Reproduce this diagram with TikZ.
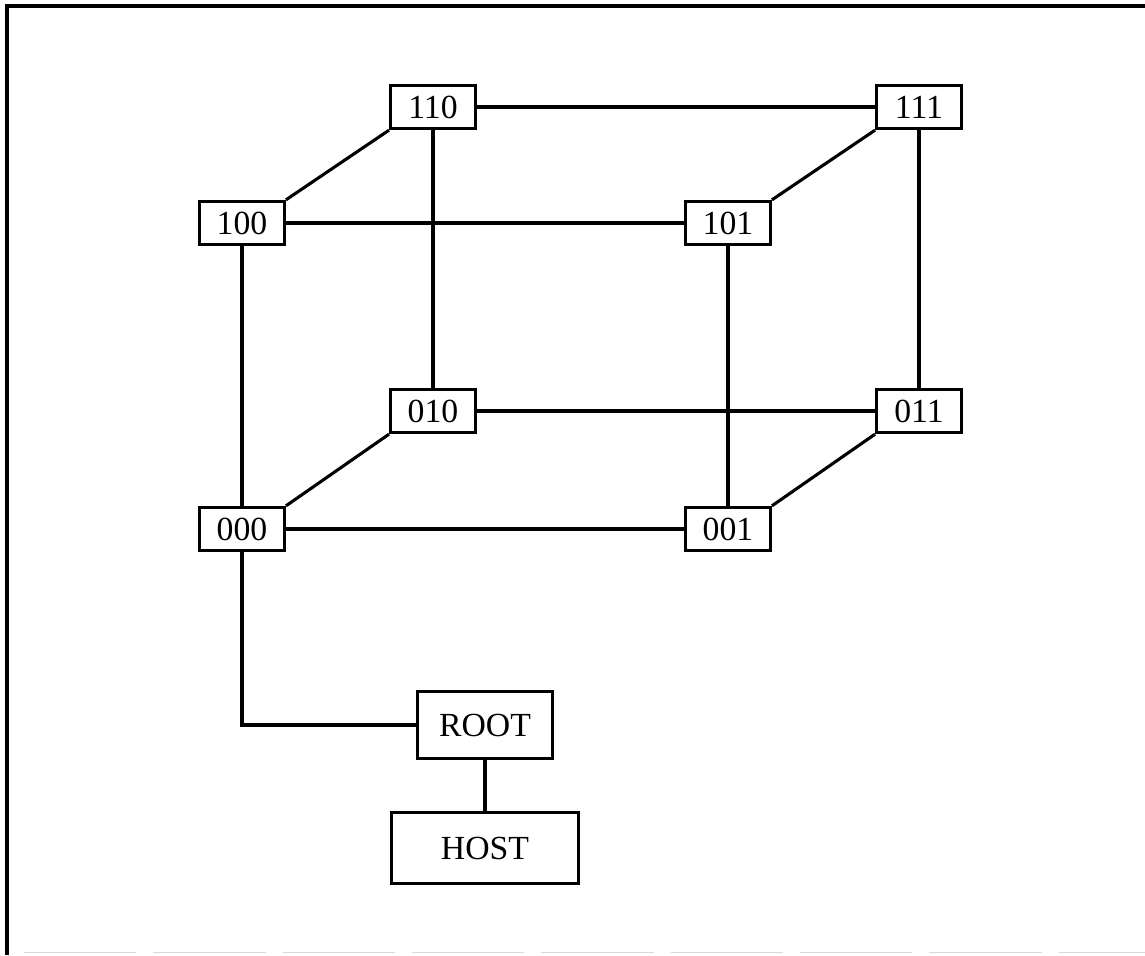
\documentclass[tikz,border=0pt]{standalone}
\usepackage{fontspec}
\setmainfont{Liberation Serif}
\usepackage{tikz}
\usetikzlibrary{positioning}

\begin{document}
\begin{tikzpicture}[line width=1.1pt, every edge/.style={draw, line width=1.1pt},
  cube/.style={draw, rectangle, minimum width=1.06cm, minimum height=0.54cm, inner sep=0pt, font=\fontsize{12}{14}\selectfont},
  ctrl/.style={draw, rectangle, inner sep=0pt, font=\fontsize{12}{14}\selectfont}]
\path[use as bounding box] (0,0) rectangle (14.3125,11.9375);
% frame
\draw[line width=1.4pt] (0.0875,0) -- (0.0875,11.8625) -- (14.3125,11.8625);
\draw[line width=0.6pt, black!15, dash pattern=on 40pt off 6pt] (0.3,0.03) -- (14.3125,0.03);
\node[cube] (N110) at (5.4125,10.6) {110};
\node[cube] (N111) at (11.4875,10.6) {111};
\node[cube] (N100) at (3.025,9.15) {100};
\node[cube] (N101) at (9.1,9.15) {101};
\node[cube] (N010) at (5.4125,6.8) {010};
\node[cube] (N011) at (11.4875,6.8) {011};
\node[cube] (N000) at (3.025,5.325) {000};
\node[cube] (N001) at (9.1,5.325) {001};
\node[ctrl, minimum width=1.69cm, minimum height=0.84cm] (root) at (6.0625,2.875) {ROOT};
\node[ctrl, minimum width=2.34cm, minimum height=0.88cm] (host) at (6.0625,1.3375) {HOST};
\path (N110) edge (N111);
\path (N100) edge (N101);
\path (N010) edge (N011);
\path (N000) edge (N001);
\path (N110) edge (N010);
\path (N100) edge (N000);
\path (N111) edge (N011);
\path (N101) edge (N001);
\path (N110.south west) edge (N100.north east);
\path (N111.south west) edge (N101.north east);
\path (N010.south west) edge (N000.north east);
\path (N011.south west) edge (N001.north east);
\draw (N000) |- (root);
\path (root) edge (host);
\end{tikzpicture}
\end{document}
